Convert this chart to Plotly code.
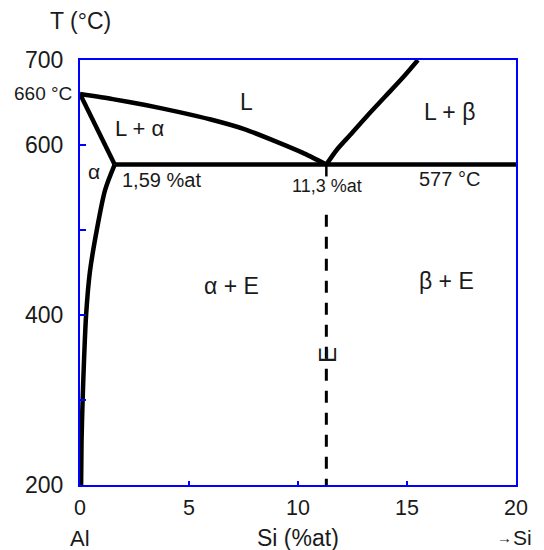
import plotly.graph_objects as go

# ---------------- data ----------------
liq_al_x = [0, 1.5, 3, 4.5, 6, 7.5, 9, 10.2, 11.3]
liq_al_T = [660, 654, 647, 639, 630, 619, 604, 591, 577]

solidus_x = [0, 1.59]
solidus_T = [660, 577]

solvus_x = [1.59, 1.15, 0.77, 0.45, 0.28, 0.19, 0.12, 0.07, 0.05]
solvus_T = [577, 547, 500, 450, 400, 350, 300, 250, 200]

liq_si_x = [11.3, 11.8, 12.4, 13.2, 14.0, 14.8, 15.5]
liq_si_T = [577, 595, 612, 635, 657, 679, 700]

eutectic_T = 577
eutectic_x = [1.59, 20]
eutectic_comp = 11.3
e_line_T = [518, 200]
e_tick_T = [577, 563]

x_ticks = [0, 5, 10, 15, 20]
x_tick_text = ["0", "5", "10", "15", "20"]
y_ticks = [200, 300, 400, 500, 600, 700]
y_tick_text = ["200", "", "400", "", "600", "700"]

X_RANGE = [0, 20]
Y_RANGE = [200, 700]

FONT = "Liberation Sans, Arial, sans-serif"
TXT = "#1a1a1a"
BLUE = "#0000ff"

fig = go.Figure()

def line(x, y, width=4.5, dash=None, shape="linear", smoothing=0.8):
    fig.add_trace(go.Scatter(
        x=x, y=y, mode="lines", cliponaxis=False, hoverinfo="skip",
        line=dict(color="black", width=width, dash=dash, shape=shape, smoothing=smoothing),
        showlegend=False))

line(liq_al_x, liq_al_T, shape="spline", smoothing=0.6)
line(solidus_x, solidus_T)
line(solvus_x, solvus_T, shape="spline")
line(liq_si_x, liq_si_T, shape="spline")
line(eutectic_x, [eutectic_T, eutectic_T])
line([eutectic_comp, eutectic_comp], e_line_T, width=3, dash="12px,10px")
line([eutectic_comp, eutectic_comp], e_tick_T, width=2.5)

def ann(x, y, text, size=21, xanchor="center", angle=0):
    xd = (x - X_RANGE[0]) / (X_RANGE[1] - X_RANGE[0])
    yd = (y - Y_RANGE[0]) / (Y_RANGE[1] - Y_RANGE[0])
    fig.add_annotation(x=xd, y=yd, text=text, showarrow=False,
                       xref="x domain", yref="y domain",
                       xanchor=xanchor, yanchor="middle", textangle=angle,
                       font=dict(family=FONT, size=size, color=TXT))

ann(0, 746, "T (°C)", size=23)
ann(-0.28, 660, "660 °C", size=19, xanchor="right")
ann(0, 137.5, "Al", size=22)
ann(10, 137.5, "Si (%at)", size=23)
ann(19.45, 138.5, "→", size=15)
ann(19.75, 138, "Si", size=21, xanchor="left")
ann(7.65, 651, "L", size=23)
ann(2.75, 619, "L + α", size=22)
ann(16.93, 639, "L + β", size=23)
ann(0.64, 569, "α", size=21)
ann(3.72, 559, "1,59 %at", size=20)
ann(11.35, 552, "11,3 %at", size=18)
ann(16.93, 560, "577 °C", size=20)
ann(6.95, 434, "α + E", size=23)
ann(16.83, 440, "β + E", size=23)
ann(11.38, 353, "E", size=24, angle=-90)

fig.update_layout(
    width=536, height=542,
    margin=dict(l=72, r=28, t=52, b=65),
    paper_bgcolor="white", plot_bgcolor="white",
    showlegend=False,
    font=dict(family=FONT, size=21, color=TXT),
)
fig.update_xaxes(
    range=X_RANGE, tickmode="array", tickvals=x_ticks, ticktext=x_tick_text,
    ticks="inside", ticklen=4, tickwidth=2, tickcolor=BLUE,
    showline=True, linecolor=BLUE, linewidth=2, mirror=True,
    showgrid=False, zeroline=False,
    tickfont=dict(family=FONT, size=21.5, color=TXT), ticklabelstandoff=2,
)
fig.update_yaxes(
    range=Y_RANGE, tickmode="array", tickvals=y_ticks, ticktext=y_tick_text,
    ticks="inside", ticklen=6, tickwidth=2, tickcolor=BLUE,
    showline=True, linecolor=BLUE, linewidth=2, mirror=True,
    showgrid=False, zeroline=False,
    tickfont=dict(family=FONT, size=23, color=TXT), ticklabelstandoff=10,
)

fig.write_html("out.html")
